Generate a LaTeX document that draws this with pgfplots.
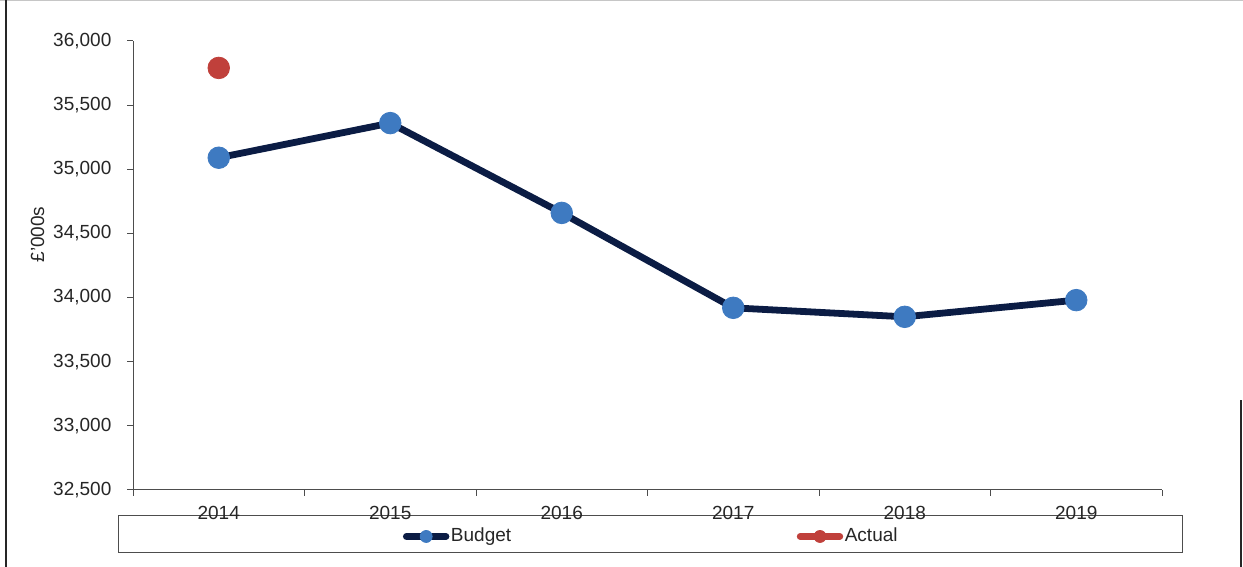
\documentclass[border=0pt]{standalone}
\usepackage{fontspec}
\setmainfont{Liberation Sans}
\usepackage{pgfplots}
\pgfplotsset{compat=1.18}
\definecolor{navy}{HTML}{0B1C44}
\definecolor{budblue}{HTML}{3E7AC1}
\definecolor{actred}{HTML}{C0403B}
\definecolor{txt}{HTML}{262626}
\definecolor{axc}{HTML}{4D4D4D}
\begin{document}
\begin{tikzpicture}
\useasboundingbox (0pt,0pt) rectangle (621.5pt,283.5pt);
\draw[gray!45, line width=0.6pt] (0pt,283.2pt) -- (621.5pt,283.2pt);
\draw[black!85, line width=1.2pt] (3pt,0pt) -- (3pt,283.5pt);
\draw[black!85, line width=1pt] (620.5pt,0pt) -- (620.5pt,83.5pt);
\draw[axc, line width=0.5pt] (59pt,7pt) rectangle (591pt,25.5pt);
\begin{axis}[
  at={(66.5pt,38.5pt)}, anchor=south west,
  scale only axis, width=514.5pt, height=224.5pt,
  xmin=-0.5, xmax=5.5, ymin=32500, ymax=36000,
  axis x line=bottom, axis y line=left,
  axis line style={draw=axc, line width=0.5pt, -},
  xtick={0,...,5}, xticklabels={2014,2015,2016,2017,2018,2019},
  minor xtick={-0.5,0.5,1.5,2.5,3.5,4.5,5.5},
  major x tick style={draw=none},
  minor x tick style={draw=axc, line width=0.5pt},
  ytick={32500,33000,...,36000},
  y tick style={draw=axc, line width=0.5pt},
  tick align=outside, major tick length=2.8pt, minor tick length=2.8pt,
  scaled y ticks=false,
  /pgf/number format/.cd, fixed, precision=0, 1000 sep={,}, assume math mode=true, /pgfplots/.cd,
  ticklabel style={font=\fontsize{9.5}{11.4}\selectfont, text=txt},
  xticklabel style={yshift=-2pt},
  yticklabel style={xshift=-4.5pt},
  ylabel={£'000s},
  every axis y label/.style={at={(axis description cs:-0.0928,0.569)}, rotate=90, anchor=center, font=\fontsize{9.5}{11.4}\selectfont, text=txt},
  clip=false,
  legend columns=2,
  legend style={draw=none, fill=none, at={(axis description cs:0.5035,-0.1035)}, anchor=center,
    font=\fontsize{9.5}{11.4}\selectfont, text=txt, nodes={inner xsep=0.8pt},
    /tikz/every even column/.append style={column sep=142pt}},
  legend image code/.code={\draw[#1, line cap=round, mark size=3pt, mark repeat=2, mark phase=2] plot coordinates {(1.3pt,0pt) (11.2pt,0pt) (21.1pt,0pt)};},
]
\addplot[draw=navy, line width=3.4pt, mark=*, mark size=5.4pt,
  mark options={fill=budblue, draw=budblue, line width=0.4pt, solid}]
  coordinates {(0,35090) (1,35360) (2,34660) (3,33920) (4,33850) (5,33980)};
\addlegendentry{Budget}
\addplot[draw=actred, line width=3.4pt, mark=*, mark size=5.4pt,
  mark options={fill=actred, draw=actred, line width=0.4pt, solid}]
  coordinates {(0,35790)};
\addlegendentry{Actual}
\end{axis}
\end{tikzpicture}
\end{document}
